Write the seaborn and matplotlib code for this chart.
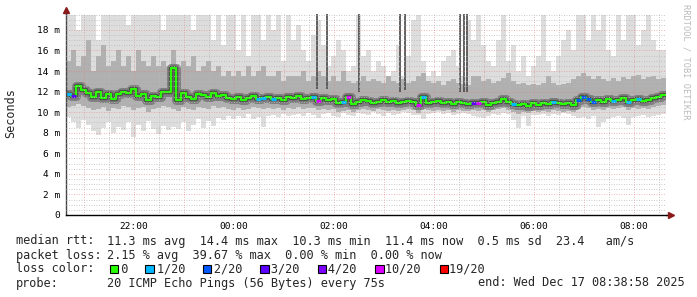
import numpy as np
import pandas as pd
import matplotlib
matplotlib.use("Agg")
import matplotlib.pyplot as plt
import matplotlib.dates as mdates
import matplotlib.ticker as mticker
from matplotlib.patches import Rectangle
import seaborn as sns

# ---------------- data ----------------
start = "2025-12-16 20:38:58"
end = "2025-12-17 08:38:58"
step = "6min"

median = [11.8, 11.6, 12.5, 12.2, 11.9, 11.5, 12.0, 11.4, 11.8, 11.3,
          11.8, 12.0, 11.9, 12.3, 11.6, 11.8, 11.2, 11.6, 11.5, 12.0,
          12.0, 14.3, 11.2, 11.9, 11.5, 11.3, 11.8, 11.7, 11.5, 11.9,
          11.6, 11.7, 11.4, 11.3, 11.5, 11.2, 11.4, 11.6, 11.3, 11.4,
          11.5, 11.3, 11.4, 11.2, 11.5, 11.4, 11.6, 11.3, 11.4, 11.5,
          11.1, 11.4, 11.2, 11.3, 10.9, 11.0, 11.5, 10.8, 11.0, 11.2,
          11.1, 10.9, 11.0, 11.2, 11.0, 11.1, 10.9, 11.0, 11.1, 11.0,
          10.7, 11.5, 10.9, 11.0, 11.1, 10.9, 11.0, 10.8, 11.0, 10.9,
          10.8, 10.9, 10.9, 11.0, 10.7, 10.9, 11.0, 11.3, 11.0, 10.8,
          10.7, 10.8, 10.6, 10.9, 10.7, 10.9, 10.8, 11.0, 10.9, 10.8,
          10.9, 10.7, 11.2, 11.5, 11.3, 11.0, 11.2, 11.0, 11.3, 11.1,
          11.2, 11.4, 11.0, 11.2, 11.3, 11.1, 11.2, 11.4, 11.5, 11.7]

loss = [1, 3, 0, 0, 0, 0, 0, 0, 0, 0,
        0, 0, 0, 0, 0, 0, 0, 0, 0, 0,
        0, 0, 0, 0, 0, 0, 0, 0, 0, 0,
        0, 0, 0, 0, 0, 0, 0, 0, 1, 1,
        0, 1, 0, 0, 0, 0, 0, 0, 0, 1,
        10, 0, 0, 0, 0, 1, 10, 0, 0, 0,
        0, 0, 0, 0, 0, 0, 0, 0, 0, 0,
        10, 1, 0, 0, 0, 0, 0, 0, 0, 0,
        0, 3, 10, 0, 0, 0, 0, 0, 0, 1,
        0, 0, 0, 0, 0, 0, 0, 1, 0, 0,
        0, 0, 2, 2, 2, 2, 0, 0, 0, 1,
        0, 0, 1, 0, 1, 0, 0, 0, 0, 0]

smoke_hi = [19.5, 19.5, 18.0, 19.5, 19.5, 19.5, 17.0, 19.5, 19.5, 19.5,
            19.5, 19.5, 18.5, 19.5, 19.5, 19.5, 19.5, 19.5, 19.5, 18.0,
            19.5, 19.5, 19.5, 19.5, 19.5, 18.0, 19.5, 19.5, 19.5, 17.0,
            19.5, 16.5, 19.5, 19.5, 16.0, 19.5, 15.5, 19.5, 19.5, 17.0,
            19.5, 18.0, 19.5, 15.0, 19.5, 17.0, 18.5, 16.0, 15.0, 17.5,
            19.0, 16.5, 14.5, 15.5, 17.0, 16.0, 14.0, 14.5, 19.5, 15.5,
            16.0, 14.0, 15.0, 14.5, 13.5, 14.0, 16.5, 13.5, 15.5, 19.0,
            19.5, 15.0, 13.5, 14.0, 13.5, 15.0, 15.5, 16.0, 14.5, 13.5,
            19.0, 17.0, 19.5, 16.5, 15.0, 14.5, 17.0, 19.5, 15.0, 16.5,
            14.0, 15.5, 13.5, 14.5, 15.5, 19.5, 15.0, 14.0, 15.5, 17.0,
            18.0, 16.0, 19.5, 19.5, 17.0, 19.5, 18.0, 19.5, 16.0, 15.5,
            19.5, 17.0, 19.5, 19.5, 16.5, 18.0, 19.5, 17.0, 16.0, 16.0]

smoke_lo = [9.5, 9.0, 8.5, 9.2, 8.8, 8.2, 7.8, 8.5, 9.0, 8.0,
            8.6, 8.3, 9.0, 7.6, 8.8, 8.2, 9.1, 8.4, 7.9, 8.7,
            8.3, 8.6, 8.4, 9.0, 8.2, 8.8, 9.3, 8.5, 9.1, 8.7,
            9.4, 9.2, 9.6, 9.3, 9.6, 9.4, 9.8, 9.3, 9.5, 8.6,
            9.6, 9.7, 9.5, 9.8, 9.6, 9.7, 9.8, 9.6, 9.9, 9.7,
            9.4, 9.8, 9.9, 9.6, 9.5, 9.9, 9.7, 9.6, 9.9, 9.8,
            9.7, 10.0, 9.8, 9.6, 9.9, 9.7, 9.8, 10.0, 9.9, 9.7,
            9.7, 9.3, 9.8, 9.9, 10.0, 9.8, 9.9, 9.7, 9.8, 9.9,
            9.8, 9.6, 9.5, 9.4, 9.6, 9.8, 9.7, 9.9, 9.8, 9.2,
            8.5, 9.6, 8.7, 9.7, 9.7, 9.8, 9.6, 9.8, 9.7, 9.9,
            9.8, 9.6, 9.4, 9.5, 9.3, 9.6, 8.6, 9.0, 9.3, 9.5,
            9.6, 9.4, 8.8, 9.5, 9.6, 9.7, 9.5, 9.6, 9.7, 9.8]

band_hi = [15.0, 16.0, 14.5, 15.5, 17.0, 14.0, 15.5, 16.5, 14.5, 15.0,
           16.0, 14.5, 15.5, 14.0, 16.0, 15.0, 14.5, 15.5, 14.5, 15.0,
           14.5, 16.0, 14.0, 15.0, 14.5, 15.5, 14.0, 14.5, 15.0, 14.0,
           14.5, 13.5, 14.0, 13.5, 14.0, 13.5, 14.5, 13.5, 14.0, 14.5,
           13.5, 13.5, 14.0, 13.0, 13.5, 13.5, 13.5, 14.0, 13.0, 13.5,
           14.0, 13.5, 13.0, 13.5, 13.0, 14.0, 13.0, 12.8, 13.0, 13.5,
           13.0, 13.2, 13.0, 12.8, 13.5, 13.0, 12.8, 13.2, 12.8, 13.0,
           13.5, 13.8, 13.0, 12.8, 13.0, 12.6, 13.0, 13.2, 12.8, 12.7,
           12.6, 13.5, 13.5, 13.0, 13.2, 12.8, 13.0, 13.3, 13.8, 13.0,
           12.7, 12.8, 12.6, 12.7, 12.6, 12.8, 13.5, 12.8, 12.6, 12.7,
           12.8, 13.2, 13.5, 13.8, 13.5, 13.2, 13.5, 13.2, 13.0, 13.3,
           13.0, 13.4, 13.2, 13.5, 13.6, 13.2, 13.4, 13.5, 13.2, 13.3]

band_lo = [10.5, 10.6, 10.8, 10.6, 10.4, 10.2, 10.3, 10.5, 10.1, 10.4,
           10.3, 10.6, 10.5, 10.2, 10.4, 10.5, 10.0, 10.3, 10.4, 10.6,
           10.5, 10.3, 10.1, 10.5, 10.3, 10.2, 10.5, 10.4, 10.3, 10.6,
           10.4, 10.5, 10.3, 10.2, 10.4, 10.2, 10.3, 10.5, 10.4, 10.3,
           10.4, 10.3, 10.4, 10.2, 10.4, 10.3, 10.5, 10.3, 10.4, 10.4,
           10.2, 10.3, 10.2, 10.3, 10.0, 10.1, 10.2, 10.0, 10.2, 10.3,
           10.2, 10.1, 10.3, 10.2, 10.1, 10.2, 10.1, 10.2, 10.3, 10.2,
           9.9, 10.3, 10.2, 10.1, 10.2, 10.1, 10.2, 10.0, 10.2, 10.1,
           10.1, 10.2, 10.1, 10.2, 10.0, 10.2, 10.3, 10.4, 10.2, 10.0,
           9.8, 10.0, 9.9, 10.1, 10.0, 10.1, 10.0, 10.2, 10.1, 10.0,
           10.1, 10.0, 10.3, 10.5, 10.4, 10.2, 10.3, 10.2, 10.4, 10.3,
           10.4, 10.5, 10.2, 10.4, 10.3, 10.4, 10.3, 10.5, 10.6, 10.7]

spike_times = ["2025-12-17 01:40", "2025-12-17 01:52", "2025-12-17 02:30",
               "2025-12-17 03:20", "2025-12-17 03:26", "2025-12-17 04:32",
               "2025-12-17 04:37", "2025-12-17 04:40"]
spike_base = [12.3, 12.3, 12.0, 12.0, 12.2, 12.0, 12.0, 12.0]

loss_levels = [0, 1, 2, 3, 4, 10, 19]
loss_labels = ["0", "1/20", "2/20", "3/20", "4/20", "10/20", "19/20"]
loss_colors = ["#26ff00", "#00b8ff", "#0059ff", "#5e00ff", "#7e00ff", "#dd00ff", "#ff0000"]

rtt_label = "median rtt:"
rtt_values = "11.3 ms avg  14.4 ms max  10.3 ms min  11.4 ms now  0.5 ms sd  23.4   am/s"
loss_label = "packet loss:"
loss_values = "2.15 % avg  39.67 % max  0.00 % min  0.00 % now"
color_label = "loss color:"
probe_label = "probe:"
probe_values = "20 ICMP Echo Pings (56 Bytes) every 75s"
end_text = "end: Wed Dec 17 08:38:58 2025"

# ---------------- figure ----------------
sns.set_theme(style="white")
plt.rcParams["font.family"] = ["DejaVu Sans Mono", "DejaVu Sans"]

W, H = 697, 297
fig = plt.figure(figsize=(W / 100, H / 100), dpi=100)
fig.patch.set_facecolor("white")
ax = fig.add_axes([66 / W, (H - 215) / H, 600 / W, (215 - 14) / H])
ax.set_facecolor("white")

t = pd.date_range(start, periods=len(median), freq=step)
t_ext = t.append(pd.DatetimeIndex([pd.Timestamp(end)]))
df = pd.DataFrame({"time": t, "median": median, "loss": loss,
                   "hi": smoke_hi, "lo": smoke_lo, "bhi": band_hi, "blo": band_lo})

def ext(v):
    v = list(v)
    return v + [v[-1]]

ax.fill_between(t_ext, ext(df["lo"]), ext(df["hi"]), step="post", color="#dddddd", lw=0)
ax.fill_between(t_ext, ext(df["blo"]), ext(df["bhi"]), step="post", color="#b0b0b0", lw=0)
ax.vlines(pd.to_datetime(spike_times), spike_base, 19.6, color="#555555", lw=1.3)
ax.step(t_ext, ext(df["median"]), where="post", color="#7a7a7a", lw=6.5, alpha=0.9)
ax.step(t_ext, ext(df["median"]), where="post", color="#484848", lw=3.2, alpha=0.95)

sns.lineplot(x=t_ext, y=ext(df["median"]), drawstyle="steps-post", color=loss_colors[0],
             lw=1.6, ax=ax, legend=False)
cmap = dict(zip(loss_levels, loss_colors))
for i in range(len(t)):
    if loss[i] > 0:
        ax.hlines(median[i], t_ext[i], t_ext[i + 1], color=cmap[loss[i]], lw=2.2)

t0, t1 = pd.Timestamp(start), pd.Timestamp(end)
ax.set_xlim(t0, t1)
ax.set_ylim(0, 19.55)

# grid
ax.xaxis.set_major_locator(mdates.HourLocator())
ax.xaxis.set_minor_locator(mdates.MinuteLocator(byminute=[30]))
ax.xaxis.set_major_formatter(mticker.FuncFormatter(
    lambda v, p: mdates.num2date(v).strftime("%H:%M") if mdates.num2date(v).hour % 2 == 0 else ""))
ax.yaxis.set_major_locator(mticker.MultipleLocator(2))
ax.yaxis.set_minor_locator(mticker.MultipleLocator(0.5))
ax.yaxis.set_major_formatter(mticker.FuncFormatter(lambda v, p: f"{int(round(v))} m" if v > 0 else "0"))
ax.set_axisbelow(False)
ax.grid(which="major", color="#e08080", ls=(0, (1, 2)), lw=0.6, alpha=0.75)
ax.grid(which="minor", color="#b8b8b8", ls=(0, (1, 2)), lw=0.6)
ax.tick_params(axis="both", which="both", length=0, labelsize=6.8, colors="#000000")
ax.tick_params(axis="x", pad=5)
ax.tick_params(axis="y", pad=4)
ax.set_xlabel("")
ax.set_ylabel("")
for s in ["top", "right"]:
    ax.spines[s].set_visible(False)
ax.spines["left"].set_color("#444444")
ax.spines["left"].set_linewidth(1)
ax.spines["bottom"].set_color("#000000")
ax.spines["bottom"].set_linewidth(1)

# axis extensions and arrows
ax.plot([0, 0], [1.0, 1.02], transform=ax.transAxes, color="#444444", lw=1, clip_on=False)
ax.plot([0], [1.02], transform=ax.transAxes, marker="^", color="#8b1a1a", ms=4, clip_on=False)
ax.plot([1.0, 1.008], [0, 0], transform=ax.transAxes, color="#000000", lw=1, clip_on=False)
ax.plot([1.008], [0], transform=ax.transAxes, marker=">", color="#8b1a1a", ms=4, clip_on=False)

fig.text(11 / W, 1 - 113 / H, "Seconds", rotation=90, ha="center", va="center", fontsize=8.5)
fig.text(686 / W, 1 - 4 / H, "RRDTOOL / TOBI OETIKER", rotation=270, ha="center", va="top",
         fontsize=6.2, color="#bbbbbb")

# legend / stats
fs = 8.6
cw = 7.18
xl = 16
xv = 107
def fx(px):
    return px / W
def fy(py):
    return 1 - py / H

fig.text(fx(xl), fy(241), rtt_label, ha="left", va="center", fontsize=fs)
fig.text(fx(xv), fy(241), rtt_values, ha="left", va="center", fontsize=fs)
fig.text(fx(xl), fy(256), loss_label, ha="left", va="center", fontsize=fs)
fig.text(fx(xv), fy(256), loss_values, ha="left", va="center", fontsize=fs)
fig.text(fx(xl), fy(269), color_label, ha="left", va="center", fontsize=fs)
line = ""
box_cols = []
for lab in loss_labels:
    box_cols.append(len(line))
    line += "  " + lab + "  "
fig.text(fx(xv), fy(269), line.rstrip(), ha="left", va="center", fontsize=fs)
for col, c in zip(box_cols, loss_colors):
    bx = xv + col * cw + 2.5
    fig.patches.append(Rectangle((fx(bx), fy(273)), 8.5 / W, 8.5 / H, transform=fig.transFigure,
                                 facecolor=c, edgecolor="black", lw=0.8, figure=fig))
fig.text(fx(xl), fy(283), probe_label, ha="left", va="center", fontsize=fs)
fig.text(fx(xv), fy(283), probe_values, ha="left", va="center", fontsize=fs)
fig.text(fx(478), fy(283), end_text, ha="left", va="center", fontsize=fs)

fig.savefig("out.png", dpi=100, facecolor="white")
